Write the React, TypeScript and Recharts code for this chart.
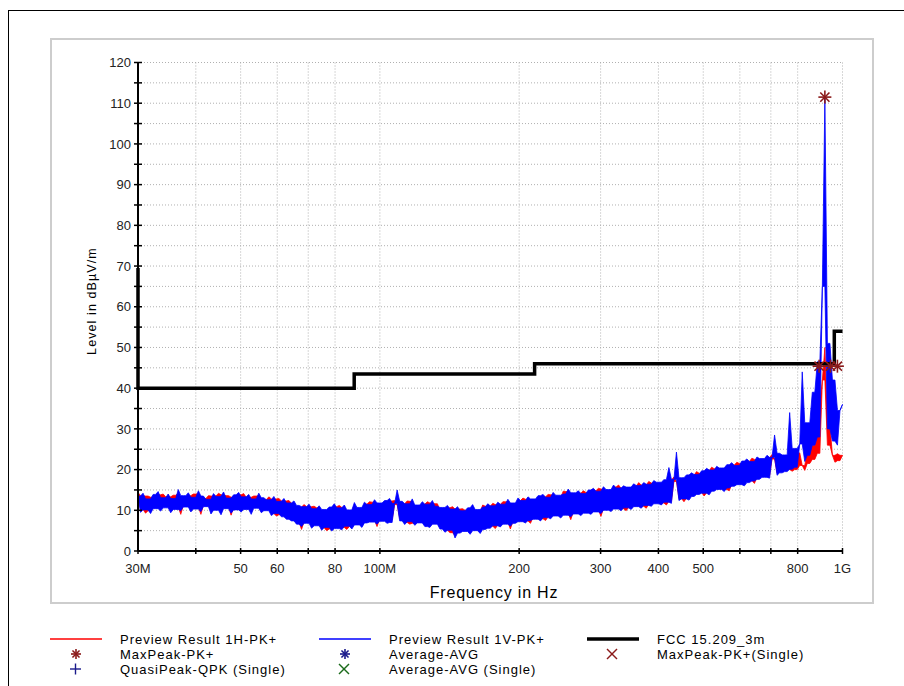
import React from 'react';
import { ComposedChart, Area, Line, Scatter, XAxis, YAxis, CartesianGrid } from 'recharts';

// sweep grid of the receiver: 281 log-spaced points, 30 MHz .. 1 GHz
const SWEEP_START = 30;
const SWEEP_STOP = 1000;

// Preview Result 1V-PK+ (dBµV/m), one value per sweep point
const LEVEL_1V = [
  13.5, 9.5, 14.2, 10.1, 12.8, 9.2, 13.9, 10.4, 14.6, 9.8, 13.1, 10.6, 14.0, 9.4, 12.9, 10.2, 15.1, 9.9, 13.6, 10.8,
  14.3, 9.6, 13.2, 10.3, 14.8, 9.7, 13.5, 10.9, 12.7, 9.1, 14.1, 10.0, 13.4, 8.9, 14.5, 10.4, 13.0, 9.3, 13.8, 10.1,
  14.4, 9.6, 13.3, 10.2, 13.9, 9.0, 12.8, 10.5, 14.2, 9.4, 13.1, 9.9, 12.6, 8.7, 13.4, 9.2, 12.2, 8.4, 12.9, 7.8,
  11.8, 7.4, 12.3, 6.6, 11.2, 6.0, 10.9, 6.8, 11.5, 5.6, 10.4, 6.2, 11.1, 5.1, 10.2, 5.8, 10.8, 4.9, 11.6, 5.5,
  10.6, 5.2, 11.3, 6.1, 10.1, 5.4, 11.9, 6.4, 10.7, 5.8, 12.0, 6.9, 11.4, 7.1, 12.6, 6.6, 11.8, 7.3, 12.4, 6.8,
  12.9, 7.0, 11.7, 15.0, 7.4, 12.2, 6.5, 11.6, 7.2, 12.8, 6.3, 11.3, 6.9, 12.1, 6.0, 11.5, 5.8, 12.4, 6.6, 11.0,
  5.4, 10.7, 4.6, 11.2, 5.1, 10.3, 3.2, 10.9, 4.4, 9.9, 4.8, 10.6, 4.1, 11.4, 5.0, 10.2, 4.3, 10.8, 5.3, 11.6,
  5.6, 11.1, 6.2, 12.0, 5.9, 11.5, 6.6, 12.7, 6.1, 11.8, 6.8, 13.0, 7.2, 12.4, 6.9, 13.3, 7.5, 12.8, 7.8, 13.6,
  7.4, 13.9, 8.2, 13.2, 7.9, 14.4, 8.6, 13.7, 8.1, 14.0, 8.8, 15.2, 8.4, 14.3, 9.1, 14.8, 8.7, 14.1, 9.3, 15.0,
  9.0, 15.4, 9.6, 14.7, 9.2, 15.8, 10.0, 15.1, 9.7, 16.2, 10.3, 15.5, 9.9, 16.0, 10.6, 15.7, 10.2, 16.5, 10.9, 16.1,
  10.5, 16.8, 11.2, 16.4, 11.0, 17.3, 11.6, 16.9, 11.3, 17.5, 12.0, 20.5, 11.7, 17.6, 24.3, 12.4, 18.0, 12.8, 18.7, 12.5,
  19.2, 13.4, 18.8, 13.9, 19.7, 14.2, 20.3, 13.8, 19.9, 14.7, 20.8, 15.1, 20.4, 14.6, 21.2, 15.5, 21.7, 15.9, 21.0, 16.3,
  22.1, 16.0, 22.6, 16.8, 22.0, 17.2, 23.1, 17.6, 22.7, 18.1, 23.5, 17.9, 23.0, 28.5, 18.6, 24.0, 19.2, 23.6, 19.5, 34.0,
  20.1, 25.2, 20.6, 26.3, 44.0, 22.0, 31.5, 23.5, 39.0, 26.0, 46.5, 28.0, 65.0, 111.5, 30.0, 51.0, 27.0, 42.0, 26.0, 34.5, 36.0,
];

// Preview Result 1H-PK+
const LEVEL_1H = [
  14.4, 10.2, 13.6, 9.3, 13.5, 9.9, 13.2, 10.9, 13.8, 10.5, 14.0, 11.0, 13.3, 9.9, 13.7, 10.8, 14.2, 9.0, 13.0, 11.2,
  13.6, 10.3, 14.0, 10.8, 14.1, 9.0, 12.9, 11.3, 13.6, 9.8, 13.5, 10.6, 14.2, 9.5, 13.8, 10.9, 13.6, 8.8, 13.2, 10.7,
  13.8, 10.1, 14.1, 10.7, 13.2, 9.6, 13.5, 10.9, 13.6, 9.9, 12.6, 10.4, 13.3, 9.2, 12.8, 8.6, 12.9, 8.9, 12.3, 8.3,
  12.4, 7.9, 11.7, 7.1, 10.8, 5.3, 11.4, 7.2, 10.9, 6.1, 11.0, 6.7, 10.6, 5.7, 9.8, 5.0, 10.3, 5.4, 10.9, 6.0,
  11.2, 5.8, 10.7, 5.3, 9.8, 6.0, 11.3, 6.9, 10.2, 6.3, 11.5, 7.4, 12.1, 7.6, 12.0, 6.0, 11.2, 7.8, 11.9, 7.3,
  12.3, 7.6, 12.4, 11.4, 7.9, 11.6, 7.0, 12.3, 6.6, 12.2, 6.8, 10.8, 7.4, 11.5, 6.5, 12.1, 6.3, 11.8, 7.1, 11.6,
  5.9, 10.1, 5.1, 10.6, 4.5, 10.9, 3.8, 10.3, 4.9, 10.4, 5.3, 10.0, 4.6, 10.8, 5.5, 9.7, 4.8, 11.3, 5.8, 11.0,
  6.1, 11.7, 5.5, 11.4, 6.4, 12.1, 7.1, 12.1, 5.4, 11.2, 7.3, 12.4, 7.7, 13.0, 7.4, 12.7, 6.8, 12.2, 8.3, 13.1,
  7.9, 13.3, 7.5, 13.9, 8.4, 13.8, 9.1, 13.1, 8.6, 14.7, 9.3, 14.6, 7.7, 13.8, 9.6, 14.2, 9.2, 14.8, 9.8, 14.4,
  9.5, 14.8, 10.1, 15.4, 8.5, 15.2, 10.5, 14.6, 10.2, 15.7, 10.8, 16.2, 10.4, 15.4, 9.9, 15.2, 10.7, 15.9, 11.4, 16.8,
  11.0, 16.2, 10.5, 17.1, 11.5, 16.7, 12.1, 16.4, 11.8, 16.9, 11.3, 17.4, 12.2, 18.2, 17.1, 12.9, 17.5, 12.1, 18.1, 13.0,
  18.6, 13.9, 19.5, 14.4, 19.1, 13.5, 19.7, 14.3, 20.6, 15.2, 20.2, 15.6, 19.8, 15.1, 20.6, 14.8, 21.1, 16.4, 21.8, 16.8,
  21.5, 16.5, 22.0, 17.3, 22.8, 16.6, 22.5, 18.1, 22.1, 18.6, 22.9, 18.4, 23.7, 22.6, 19.1, 23.4, 19.7, 23.0, 20.0, 23.1,
  19.6, 24.6, 20.0, 24.1, 21.0, 19.8, 24.5, 21.5, 26.0, 22.5, 36.0, 24.0, 42.0, 50.0, 26.0, 31.0, 23.5, 21.8, 23.9, 22.2, 23.5,
];

// FCC 15.209 3 m limit (step line)
const LIMIT_FREQ = [30, 30, 88, 88, 216, 216, 960, 960, 1000];
const LIMIT_LEVEL = [69.5, 40, 40, 43.5, 43.5, 46, 46, 54, 54];

// MaxPeak-PK+ markers
const MAXPEAK_FREQ = [890, 916, 942, 975];
const MAXPEAK_LEVEL = [45.4, 111.5, 45.4, 45.4];

const X_TICKS = [30, 40, 50, 60, 70, 80, 100, 200, 300, 400, 500, 600, 700, 800, 1000];
const X_LABELS: Record<number, string> = {
  30: '30M', 50: '50', 60: '60', 80: '80', 100: '100M',
  200: '200', 300: '300', 400: '400', 500: '500', 800: '800', 1000: '1G',
};
const Y_TICKS = Array.from({ length: 25 }, (_, i) => i * 5);

const FONT = '"Liberation Sans", Arial, sans-serif';
const MARK_RED = '#8b1a1a';
const MARK_BLUE = '#1a1a8b';
const MARK_GREEN = '#1a6b1a';

// a dense receiver sweep shows up as a solid band with spikes: every sample
// is an edge point, and the gap between two neighbours is filled up to the
// lower of the two adjacent peaks (or down to the higher of the two troughs)
function sweepBand(vals: number[]): [number, number][] {
  const last = vals.length - 1;
  return vals.map((v, i) => {
    const a = vals[Math.max(0, i - 1)];
    const c = vals[Math.min(last, i + 1)];
    const hi = Math.min(Math.max(a, v), Math.max(v, c));
    const lo = Math.max(Math.min(a, v), Math.min(v, c));
    return [Math.min(v, lo), Math.max(v, hi)];
  });
}

const n = LEVEL_1V.length;
const sweep = LEVEL_1V.map((_, i) => SWEEP_START * Math.pow(SWEEP_STOP / SWEEP_START, i / (n - 1)));
const band1H = sweepBand(LEVEL_1H);
const band1V = sweepBand(LEVEL_1V);
const traceRows = sweep.map((f, i) => ({ f, h: band1H[i], v: band1V[i] }));
const limitRows = LIMIT_FREQ.map((f, i) => ({ f, lim: LIMIT_LEVEL[i] }));
const peakRows = MAXPEAK_FREQ.map((f, i) => ({ f, pk: MAXPEAK_LEVEL[i] }));

function Asterisk({ cx, cy, r = 6.5, color = MARK_RED }: { cx: number; cy: number; r?: number; color?: string }) {
  const d = r * 0.707;
  return (
    <g stroke={color} strokeWidth={1.6}>
      <line x1={cx - r} y1={cy} x2={cx + r} y2={cy} />
      <line x1={cx} y1={cy - r} x2={cx} y2={cy + r} />
      <line x1={cx - d} y1={cy - d} x2={cx + d} y2={cy + d} />
      <line x1={cx - d} y1={cy + d} x2={cx + d} y2={cy - d} />
    </g>
  );
}

function YTick(props: any) {
  const { x, y, payload } = props;
  const v = payload.value;
  return (
    <g>
      <line x1={x - 4} x2={x + 4} y1={y} y2={y} stroke="#000" strokeWidth={1.5} />
      {v % 10 === 0 && (
        <text x={x - 7} y={y} dy="0.36em" textAnchor="end" fontSize={13} fill="#222" fontFamily={FONT}>
          {v}
        </text>
      )}
    </g>
  );
}

function XTick(props: any) {
  const { x, y, payload } = props;
  const label = X_LABELS[payload.value];
  return (
    <g>
      <line x1={x} x2={x} y1={y - 3} y2={y + 3} stroke="#000" strokeWidth={1.5} />
      {label && (
        <text x={x} y={y + 17} dy="0.36em" textAnchor="middle" fontSize={13} fill="#222" fontFamily={FONT}>
          {label}
        </text>
      )}
    </g>
  );
}

function LegendItem({ x, y, icon, text }: { x: number; y: number; icon: React.ReactNode; text: string }) {
  return (
    <div style={{ position: 'absolute', left: x, top: y - 8, height: 16, display: 'flex', alignItems: 'center' }}>
      <svg width={56} height={16} style={{ flex: 'none' }}>{icon}</svg>
      <span style={{ marginLeft: 14, fontSize: 13, letterSpacing: 1, fontFamily: FONT, color: '#000', whiteSpace: 'nowrap' }}>{text}</span>
    </div>
  );
}

const lineIcon = (color: string, w: number) => <line x1={0} x2={52} y1={8} y2={8} stroke={color} strokeWidth={w} />;
const crossIcon = (color: string) => (
  <g stroke={color} strokeWidth={1.4}>
    <line x1={20} y1={3} x2={30} y2={13} />
    <line x1={20} y1={13} x2={30} y2={3} />
  </g>
);
const plusIcon = (color: string) => (
  <g stroke={color} strokeWidth={1.4}>
    <line x1={20} y1={8} x2={31} y2={8} />
    <line x1={25.5} y1={2.5} x2={25.5} y2={13.5} />
  </g>
);

export default function App() {
  return (
    <div style={{ position: 'absolute', left: 0, top: 0, width: 904, height: 686, overflow: 'hidden', background: '#fff' }}>
      <div style={{ position: 'absolute', left: 8, top: 10, width: 896, height: 676, borderLeft: '1px solid #000', borderTop: '1px solid #000', boxSizing: 'border-box' }} />
      <div style={{ position: 'absolute', left: 50, top: 38, width: 824, height: 566, border: '2px solid #cdcdcd', boxSizing: 'border-box' }} />

      <div style={{ position: 'absolute', left: 0, top: 0 }}>
        <ComposedChart width={904} height={686} data={traceRows} margin={{ top: 62.5, right: 61.5, bottom: 105, left: 78 }}>
          <CartesianGrid stroke="#b0b0b0" strokeDasharray="1 2" strokeWidth={1} />
          <XAxis
            dataKey="f"
            type="number"
            scale="log"
            domain={[30, 1000]}
            ticks={X_TICKS}
            interval={0}
            height={30}
            tickSize={0}
            tickMargin={0}
            tickLine={false}
            axisLine={{ stroke: '#000', strokeWidth: 2 }}
            tick={<XTick />}
          />
          <YAxis
            type="number"
            domain={[0, 120]}
            ticks={Y_TICKS}
            interval={0}
            width={60}
            tickSize={0}
            tickMargin={0}
            tickLine={false}
            axisLine={{ stroke: '#000', strokeWidth: 2 }}
            tick={<YTick />}
          />
          <Area dataKey="h" type="linear" stroke="#ff0000" strokeWidth={0.8} fill="#ff0000" fillOpacity={1} dot={false} activeDot={false} isAnimationActive={false} />
          <Area dataKey="v" type="linear" stroke="#0000ff" strokeWidth={0.8} fill="#0000ff" fillOpacity={1} dot={false} activeDot={false} isAnimationActive={false} />
          <Line data={limitRows} dataKey="lim" type="linear" stroke="#000" strokeWidth={3.5} dot={false} isAnimationActive={false} />
          <Scatter
            data={peakRows}
            dataKey="pk"
            isAnimationActive={false}
            shape={(p: any) => <Asterisk cx={p.cx} cy={p.cy} />}
          />
        </ComposedChart>
      </div>

      <div style={{ position: 'absolute', left: 494, top: 593, transform: 'translate(-50%, -50%)', fontSize: 16, letterSpacing: 0.8, fontFamily: FONT, color: '#000', whiteSpace: 'nowrap' }}>
        Frequency in Hz
      </div>
      <div style={{ position: 'absolute', left: 92, top: 301, transform: 'translate(-50%, -50%) rotate(-90deg)', fontSize: 12.5, letterSpacing: 1.1, fontFamily: FONT, color: '#000', whiteSpace: 'nowrap' }}>
        Level in dBµV/m
      </div>

      <LegendItem x={50} y={639} icon={lineIcon('#ff0000', 1.5)} text="Preview Result 1H-PK+" />
      <LegendItem x={319} y={639} icon={lineIcon('#0000ff', 1.5)} text="Preview Result 1V-PK+" />
      <LegendItem x={587} y={639} icon={lineIcon('#000', 3.5)} text="FCC 15.209_3m" />
      <LegendItem x={50} y={654} icon={<Asterisk cx={26} cy={8} r={5} />} text="MaxPeak-PK+" />
      <LegendItem x={319} y={654} icon={<Asterisk cx={26} cy={8} r={5} color={MARK_BLUE} />} text="Average-AVG" />
      <LegendItem x={587} y={654} icon={crossIcon(MARK_RED)} text="MaxPeak-PK+(Single)" />
      <LegendItem x={50} y={669} icon={plusIcon(MARK_BLUE)} text="QuasiPeak-QPK (Single)" />
      <LegendItem x={319} y={669} icon={crossIcon(MARK_GREEN)} text="Average-AVG (Single)" />
    </div>
  );
}
